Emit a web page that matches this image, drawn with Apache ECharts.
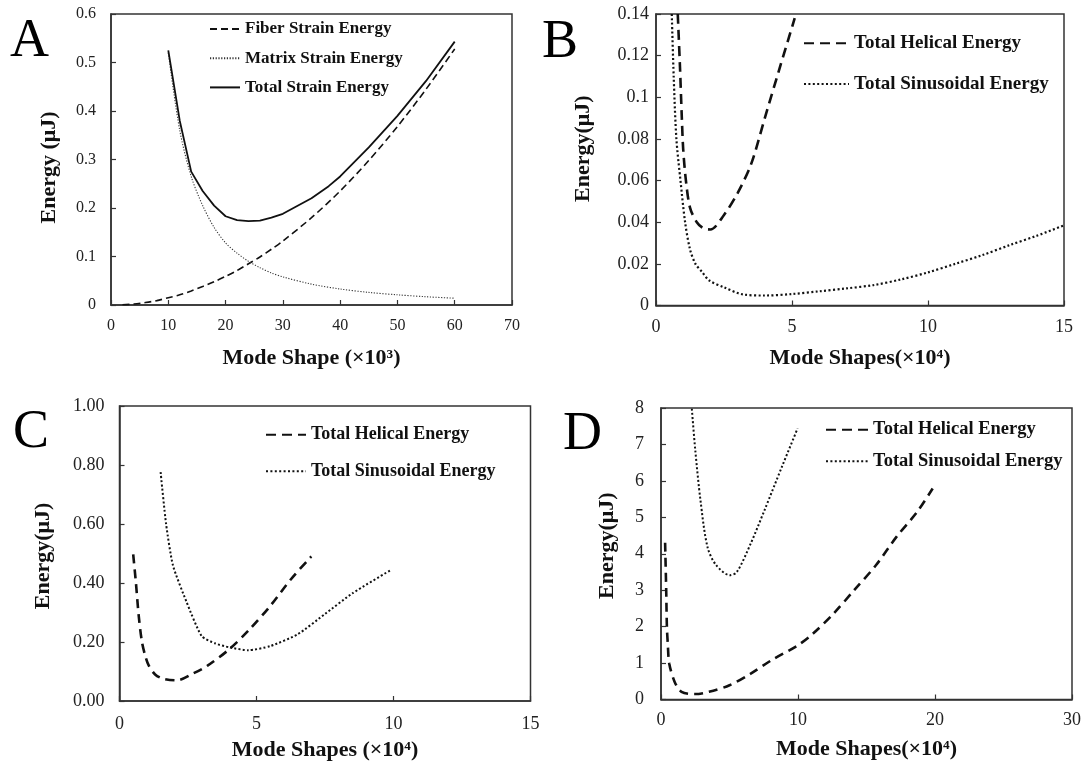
<!DOCTYPE html>
<html>
<head>
<meta charset="utf-8">
<script src="https://cdn.jsdelivr.net/npm/echarts@6/dist/echarts.min.js"></script>
<style>
  html, body { margin: 0; padding: 0; background: #fff; }
  #chart { width: 1086px; height: 766px; }
</style>
</head>
<body>
<div id="chart"></div>
<script>
// ---- Panel A: strain energy vs mode shape (x10^3) ----
const aFiberX  = [2, 4, 6, 8, 10, 12, 14, 16, 18, 20, 22, 24, 26, 28, 30, 35, 40, 45, 50, 55, 60];
const aFiberY  = [0.0005, 0.002, 0.005, 0.009, 0.015, 0.021, 0.029, 0.038, 0.048, 0.059, 0.071, 0.085, 0.099, 0.115, 0.132, 0.180, 0.235, 0.298, 0.368, 0.445, 0.528];
const aMatrixX = [10, 12, 14, 16, 18, 20, 22, 24, 26, 28, 30, 35, 40, 45, 50, 55, 60];
const aMatrixY = [0.52, 0.36, 0.265, 0.205, 0.16, 0.128, 0.107, 0.09, 0.077, 0.066, 0.058, 0.043, 0.033, 0.026, 0.021, 0.017, 0.014];
const aTotalX  = [10, 12, 14, 16, 18, 20, 22, 24, 26, 28, 30, 35, 38, 40, 45, 50, 55, 60];
const aTotalY  = [0.525, 0.38, 0.275, 0.235, 0.205, 0.183, 0.175, 0.173, 0.174, 0.18, 0.188, 0.22, 0.245, 0.265, 0.325, 0.39, 0.462, 0.543];

// ---- Panel B ----
const bHelX = [0.8, 0.88, 0.95, 1.0, 1.1, 1.25, 1.5, 1.75, 2.0, 2.5, 3.0, 3.5, 4.0, 4.5, 5.1];
const bHelY = [0.14, 0.115, 0.09, 0.075, 0.06, 0.047, 0.04, 0.037, 0.0365, 0.0435, 0.054, 0.068, 0.09, 0.112, 0.138];
const bSinX = [0.58, 0.65, 0.75, 0.9, 1.07, 1.25, 1.45, 1.7, 1.96, 2.5, 3.2, 4.0, 5.0, 6.0, 7.0, 8.0, 9.0, 10.0, 11.0, 12.0, 13.0, 14.0, 15.0];
const bSinY = [0.14, 0.11, 0.08, 0.06, 0.04, 0.027, 0.02, 0.016, 0.012, 0.0087, 0.0053, 0.0048, 0.0055, 0.0068, 0.0082, 0.0098, 0.0125, 0.0159, 0.02, 0.0242, 0.029, 0.0335, 0.0385];

// ---- Panel C ----
const cHelX = [0.5, 0.6, 0.7, 0.82, 0.95, 1.07, 1.3, 1.58, 2.08, 2.7, 3.2, 4.0, 4.75, 5.5, 6.25, 7.0];
const cHelY = [0.497, 0.4, 0.29, 0.2, 0.15, 0.12, 0.09, 0.076, 0.07, 0.094, 0.119, 0.175, 0.243, 0.322, 0.412, 0.49];
const cSinX = [1.5, 1.7, 1.95, 2.45, 3.0, 3.5, 4.0, 4.7, 5.5, 6.5, 7.5, 8.5, 9.9];
const cSinY = [0.776, 0.6, 0.46, 0.335, 0.22, 0.195, 0.182, 0.172, 0.186, 0.226, 0.295, 0.365, 0.444];

// ---- Panel D ----
const dHelX = [0.3, 0.38, 0.43, 0.5, 0.6, 0.99, 1.5, 2.5, 3.5, 5.0, 6.55, 8.07, 10.0, 11.1, 12.6, 14.1, 15.7, 17.2, 18.7, 19.83];
const dHelY = [4.3, 3.0, 2.0, 1.5, 0.99, 0.49, 0.21, 0.15, 0.21, 0.39, 0.71, 1.08, 1.49, 1.81, 2.36, 3.0, 3.69, 4.47, 5.15, 5.79];
const dSinX = [2.25, 2.5, 2.88, 3.39, 4.02, 5.03, 5.54, 6.55, 7.56, 8.83, 9.97];
const dSinY = [7.98, 6.85, 5.47, 4.19, 3.69, 3.41, 3.5, 4.28, 5.2, 6.39, 7.44];

// Series / label text
const panelLetters = ['A', 'B', 'C', 'D'];
const namesA = ['Fiber Strain Energy', 'Matrix Strain Energy', 'Total Strain Energy'];
const namesHS = ['Total Helical Energy', 'Total Sinusoidal Energy'];
const xNames = ['Mode Shape (\u00d710\u00b3)', 'Mode Shapes(\u00d710\u2074)', 'Mode Shapes (\u00d710\u2074)', 'Mode Shapes(\u00d710\u2074)'];
const yNames = ['Energy (\u03bcJ)', 'Energy(\u03bcJ)', 'Energy(\u03bcJ)', 'Energy(\u03bcJ)'];

const pts = (xs, ys) => xs.map((x, i) => [x, ys[i]]);

const SERIF = "'Times New Roman', 'Liberation Serif', serif";
const INK = '#111';
const AXIS = '#333';

const grids = [
  { left: 111, top: 14,  width: 401, height: 291 },
  { left: 656, top: 14,  width: 408, height: 291.5 },
  { left: 119.5, top: 406, width: 411, height: 295 },
  { left: 661, top: 408, width: 411, height: 291.5 }
];

const xCfg = [
  { min: 0, max: 70, interval: 10, font: 16, margin: 13, gap: 42 },
  { min: 0, max: 15, interval: 5,  font: 18, margin: 13, gap: 42 },
  { min: 0, max: 15, interval: 5,  font: 18, margin: 14, gap: 38 },
  { min: 0, max: 30, interval: 10, font: 18, margin: 12, gap: 39 }
];
const yCfg = [
  { min: 0, max: 0.6,  interval: 0.1,  font: 16, margin: 15, gap: 51, fmt: null, pad: [0, 16, 0, 0] },
  { min: 0, max: 0.14, interval: 0.02, font: 18, margin: 7,  gap: 62, fmt: null, pad: [0, 0, 0, 22] },
  { min: 0, max: 1.0,  interval: 0.2,  font: 18, margin: 15, gap: 65, fmt: v => v.toFixed(2), pad: [0, 5, 0, 0] },
  { min: 0, max: 8,    interval: 1,    font: 18, margin: 17, gap: 43, fmt: null, pad: [0, 0, 0, 16] }
];

const xAxis = xCfg.map((c, i) => ({
  type: 'value', gridIndex: i, min: c.min, max: c.max, interval: c.interval,
  name: xNames[i], nameLocation: 'middle', nameGap: c.gap,
  nameTextStyle: { fontFamily: SERIF, fontWeight: 'bold', fontSize: 22, color: INK },
  axisLine: { show: true, onZero: false, lineStyle: { color: AXIS, width: 1.5 } },
  axisTick: { show: true, inside: true, length: 5, lineStyle: { color: AXIS, width: 1.2 } },
  axisLabel: { fontFamily: SERIF, fontSize: c.font, color: '#222', margin: c.margin },
  splitLine: { show: false }
}));

const yAxis = yCfg.map((c, i) => ({
  type: 'value', gridIndex: i, min: c.min, max: c.max, interval: c.interval,
  name: yNames[i], nameLocation: 'middle', nameGap: c.gap, nameRotate: 90,
  nameTextStyle: { fontFamily: SERIF, fontWeight: 'bold', fontSize: 22, color: INK, padding: c.pad },
  axisLine: { show: true, onZero: false, lineStyle: { color: AXIS, width: 1.5 } },
  axisTick: { show: true, inside: true, length: 5, lineStyle: { color: AXIS, width: 1.2 } },
  axisLabel: Object.assign({ fontFamily: SERIF, fontSize: c.font, color: '#222', margin: c.margin },
                           c.fmt ? { formatter: c.fmt } : {}),
  splitLine: { show: false }
}));

function line(name, idx, data, style, smooth) {
  return {
    type: 'line', name, xAxisIndex: idx, yAxisIndex: idx, data,
    symbol: 'none', smooth: smooth, lineStyle: Object.assign({ color: INK }, style),
    itemStyle: { color: INK }, silent: true, animation: false
  };
}

const dashA = { width: 1.6, type: [7, 4] };
const dotA  = { width: 1.1, type: [1.2, 1.6], color: '#333' };
const solidA = { width: 1.8, type: 'solid' };
const dashB = { width: 2.6, type: [10, 6] };
const dotB  = { width: 2.2, type: [2, 2.4] };

const series = [
  line(namesA[0], 0, pts(aFiberX, aFiberY), dashA, 0.3),
  line(namesA[1], 0, pts(aMatrixX, aMatrixY), dotA, 0.3),
  line(namesA[2], 0, pts(aTotalX, aTotalY), solidA, false),
  line(namesHS[0], 1, pts(bHelX, bHelY), dashB, 0.3),
  line(namesHS[1], 1, pts(bSinX, bSinY), dotB, 0.3),
  line(namesHS[0], 2, pts(cHelX, cHelY), { width: 2.6, type: [9, 6] }, 0.3),
  line(namesHS[1], 2, pts(cSinX, cSinY), { width: 2.0, type: [2, 2.2] }, 0.2),
  line(namesHS[0], 3, pts(dHelX, dHelY), { width: 2.6, type: [9, 6] }, 0.3),
  line(namesHS[1], 3, pts(dSinX, dSinY), { width: 2.0, type: [2, 2.2] }, 0.3)
];

// Legend keys show only the line stroke (no point marker)
function legend(names, left, top, w, gap, fs) {
  return {
    data: names, orient: 'vertical', left, top, padding: 0,
    itemWidth: w, itemHeight: 12, itemGap: gap, selectedMode: false,
    itemStyle: { color: 'transparent', borderColor: 'transparent', borderWidth: 0, opacity: 0 },
    textStyle: { fontFamily: SERIF, fontWeight: 'bold', fontSize: fs, color: INK, lineHeight: 20 }
  };
}

const letterPos = [[10, 41.5], [542, 42.5], [13, 432.5], [563, 434.5]];

const option = {
  animation: false,
  backgroundColor: '#fff',
  grid: grids.map(g => Object.assign({ show: true, borderColor: AXIS, borderWidth: 1.5, backgroundColor: 'transparent' }, g)),
  xAxis, yAxis, series,
  legend: [
    legend(namesA, 209, 19, 30, 9.2, 17),
    legend(namesHS, 803, 33.3, 45, 20.7, 19),
    legend(namesHS, 265, 424.7, 40, 16.6, 18),
    legend(namesHS, 825, 419.7, 42, 11.6, 18.5)
  ],
  graphic: panelLetters.map((t, i) => ({
    type: 'text', left: letterPos[i][0], top: letterPos[i][1] - 27, silent: true,
    style: { text: t, fontFamily: SERIF, fontSize: 54, fill: '#000' }
  }))
};

const chart = echarts.init(document.getElementById('chart'), null, { renderer: 'canvas' });
chart.setOption(option);
</script>
</body>
</html>
